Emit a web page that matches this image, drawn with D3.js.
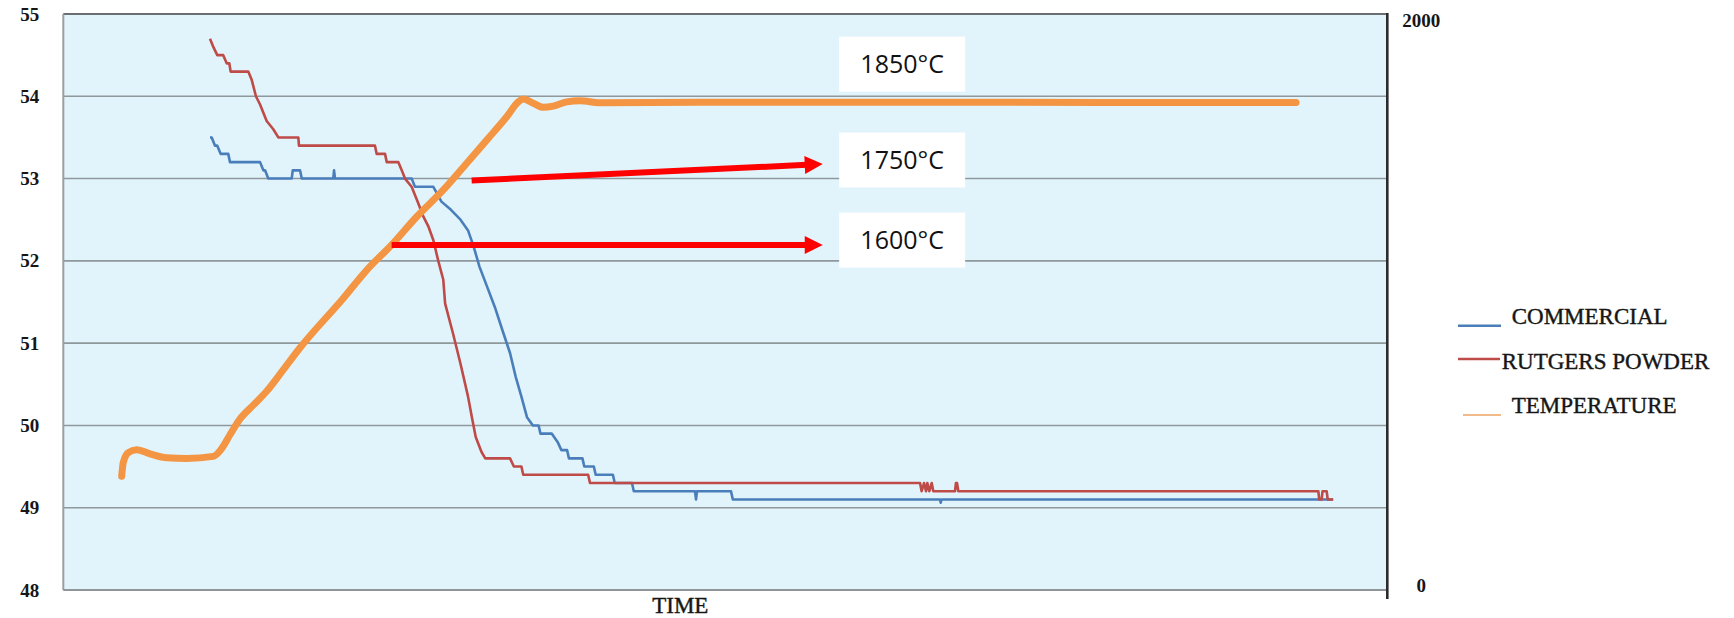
<!DOCTYPE html>
<html>
<head>
<meta charset="utf-8">
<script src="https://cdn.jsdelivr.net/npm/d3@7/dist/d3.min.js"></script>
<style>
  html, body { margin: 0; padding: 0; background: #ffffff; }
  svg { display: block; }
</style>
</head>
<body>
<svg id="chart" width="1734" height="618"></svg>
<script>
// ---- data -------------------------------------------------------------
// Sample mass (left axis) and furnace temperature (right axis) over elapsed time.
const massTicks = [48, 49, 50, 51, 52, 53, 54, 55];
const tempTicks = [0, 2000];
const seriesNames = ["COMMERCIAL", "RUTGERS POWDER", "TEMPERATURE"];
const calloutLabels = ["1850°C", "1750°C", "1600°C"];
const xTitle = "TIME";

const commercialTime = [11.08, 11.21, 11.46, 11.63, 11.89, 12.46, 12.59, 14.86, 15.11, 15.24,
  15.48, 17.25, 17.33, 17.88, 18.01, 20.39, 20.45, 20.52, 26.31, 26.56, 27.95, 28.56, 29.28,
  30.0, 30.57, 31.0, 31.43, 32.0, 32.59, 33.16, 33.74, 34.17, 34.6, 35.02, 35.47, 35.9, 36.04,
  36.9, 37.33, 37.62, 38.05, 38.19, 39.21, 39.35, 40.07, 40.21, 41.51, 41.65, 42.95, 43.09,
  47.71, 47.79, 47.86, 50.43, 50.57, 66.22, 66.27, 66.33, 95.9];
const commercialMass = [53.5, 53.5, 53.4, 53.4, 53.3, 53.3, 53.2, 53.2, 53.1, 53.1,
  53.0, 53.0, 53.1, 53.1, 53.0, 53.0, 53.1, 53.0, 53.0, 52.9, 52.9, 52.72, 52.62,
  52.5, 52.37, 52.17, 51.93, 51.69, 51.44, 51.16, 50.88, 50.59, 50.35, 50.1, 50.0, 50.0, 49.9,
  49.9, 49.8, 49.7, 49.7, 49.6, 49.6, 49.5, 49.5, 49.4, 49.4, 49.3, 49.3, 49.2,
  49.2, 49.1, 49.2, 49.2, 49.1, 49.1, 49.06, 49.1, 49.1];

const rutgersTime = [11.08, 11.33, 11.63, 12.08, 12.34, 12.54, 12.64, 13.97, 14.23, 14.55,
  14.86, 15.11, 15.36, 15.86, 16.24, 17.75, 17.8, 23.54, 23.67, 24.3, 24.43, 25.3, 25.56,
  25.81, 26.31, 26.56, 26.81, 27.19, 27.57, 27.95, 28.32, 28.7, 28.84, 29.43, 30.0, 30.57,
  30.86, 31.15, 31.58, 31.87, 33.74, 34.03, 34.6, 34.74, 39.64, 39.78, 64.71, 64.83, 65.01,
  65.16, 65.26, 65.41, 65.59, 65.71, 65.97, 67.35, 67.42, 67.5, 67.6, 94.79, 94.86, 95.04,
  95.11, 95.42, 95.5, 95.92];
const rutgersMass = [54.7, 54.6, 54.5, 54.5, 54.4, 54.4, 54.3, 54.3, 54.2, 54.0,
  53.9, 53.8, 53.7, 53.6, 53.5, 53.5, 53.4, 53.4, 53.3, 53.3, 53.2, 53.2, 53.1,
  53.0, 52.9, 52.8, 52.7, 52.54, 52.42, 52.25, 52.0, 51.77, 51.48, 51.12, 50.75, 50.35,
  50.1, 49.86, 49.68, 49.6, 49.6, 49.5, 49.5, 49.4, 49.4, 49.3, 49.3, 49.2, 49.3,
  49.2, 49.3, 49.2, 49.3, 49.2, 49.2, 49.2, 49.3, 49.3, 49.2, 49.2, 49.1, 49.1,
  49.2, 49.2, 49.1, 49.1];

const temperatureTime = [4.41, 4.53, 4.91, 5.54, 6.55, 7.81, 9.32, 11.33, 11.96, 12.59,
  13.35, 14.35, 15.36, 16.62, 17.88, 21.15, 22.92, 24.8, 26.69, 28.7, 30.47, 31.98, 33.49,
  34.37, 34.74, 35.5, 36.25, 37.01, 38.02, 39.03, 40.53, 48.09, 63.19, 78.3, 93.11];
const temperatureC = [395, 443, 477, 487, 473, 459, 457, 464, 491, 539,
  594, 642, 690, 765, 841, 1013, 1111, 1198, 1296, 1389, 1482, 1562, 1643,
  1695, 1705, 1690, 1676, 1680, 1695, 1699, 1692, 1694, 1694, 1693, 1693];

// ---- layout -----------------------------------------------------------
const plot = { left: 63.3, right: 1387.3, top: 14, bottom: 590 };
const colors = {
  commercial: "#4a7ebb",
  rutgers: "#be4b48",
  temperature: "#f39543",
  temperatureKey: "#f2b98a",
  plotBg: "#e1f4fb",
  grid: "#8f989c",
  arrow: "#ff0000",
  text: "#161616"
};
const serif = "'Liberation Serif', 'Times New Roman', serif";

const svg = d3.select("#chart");

const x = d3.scaleLinear().domain([0, 100]).range([plot.left, plot.right]);
const yMass = d3.scaleLinear().domain([48, 55]).range([plot.bottom, plot.top]);
const yTemp = d3.scaleLinear().domain([0, 2000]).range([plot.bottom, plot.top]);

// plot background
svg.append("rect")
  .attr("x", plot.left).attr("y", plot.top)
  .attr("width", plot.right - plot.left).attr("height", plot.bottom - plot.top)
  .attr("fill", colors.plotBg);

// horizontal gridlines on the inner mass ticks
svg.append("g").selectAll("line")
  .data(massTicks.filter(d => d > 48 && d < 55))
  .join("line")
  .attr("x1", plot.left).attr("x2", plot.right)
  .attr("y1", d => yMass(d)).attr("y2", d => yMass(d))
  .attr("stroke", colors.grid).attr("stroke-width", 1.6);

// frame: top, left, bottom
svg.append("line").attr("x1", plot.left).attr("x2", plot.right)
  .attr("y1", plot.top).attr("y2", plot.top)
  .attr("stroke", "#6b6f71").attr("stroke-width", 2);
svg.append("line").attr("x1", plot.left).attr("x2", plot.left)
  .attr("y1", plot.top).attr("y2", plot.bottom)
  .attr("stroke", "#9a9ea0").attr("stroke-width", 2);
svg.append("line").attr("x1", plot.left).attr("x2", plot.right)
  .attr("y1", plot.bottom).attr("y2", plot.bottom)
  .attr("stroke", "#8f9598").attr("stroke-width", 2);

// left axis (mass)
const leftAxis = svg.append("g")
  .attr("transform", `translate(${plot.left},0)`)
  .call(d3.axisLeft(yMass).tickValues(massTicks).tickSize(0).tickPadding(24).tickFormat(d3.format("d")));
leftAxis.select(".domain").remove();
leftAxis.selectAll("text")
  .attr("font-family", serif)
  .attr("font-weight", "bold")
  .attr("font-size", 19)
  .attr("fill", colors.text);

// right axis (temperature)
const rightAxis = svg.append("g")
  .attr("transform", `translate(${plot.right},0)`)
  .call(d3.axisRight(yTemp).tickValues(tempTicks).tickSize(0).tickPadding(34).tickFormat(d3.format("d")));
rightAxis.select(".domain").remove();
rightAxis.selectAll("text")
  .attr("text-anchor", "middle")
  .attr("dy", d => d === 2000 ? "0.68em" : "0.08em")
  .attr("font-family", serif)
  .attr("font-weight", "bold")
  .attr("font-size", 19)
  .attr("fill", colors.text);
svg.append("line")
  .attr("x1", plot.right).attr("x2", plot.right)
  .attr("y1", plot.top - 1).attr("y2", plot.bottom + 9)
  .attr("stroke", "#2b2b2b").attr("stroke-width", 2.6);

// x title
svg.append("text")
  .attr("x", x(46.6)).attr("y", 613)
  .attr("text-anchor", "middle")
  .attr("font-family", serif)
  .attr("font-size", 23)
  .attr("fill", colors.text)
  .attr("stroke", colors.text).attr("stroke-width", 0.4)
  .text(xTitle);

// ---- series -----------------------------------------------------------
const zip = (ts, vs) => ts.map((t, i) => [t, vs[i]]);

const massLine = d3.line().x(d => x(d[0])).y(d => yMass(d[1]));
const tempLine = d3.line().x(d => x(d[0])).y(d => yTemp(d[1])).curve(d3.curveMonotoneX);

svg.append("path")
  .datum(zip(commercialTime, commercialMass))
  .attr("d", massLine)
  .attr("fill", "none").attr("stroke", colors.commercial)
  .attr("stroke-width", 2.6).attr("stroke-linejoin", "round");

svg.append("path")
  .datum(zip(rutgersTime, rutgersMass))
  .attr("d", massLine)
  .attr("fill", "none").attr("stroke", colors.rutgers)
  .attr("stroke-width", 2.6).attr("stroke-linejoin", "round");

const tempData = zip(temperatureTime, temperatureC);
svg.append("path")
  .datum(tempData)
  .attr("d", tempLine)
  .attr("fill", "none").attr("stroke", colors.temperature)
  .attr("stroke-width", 7).attr("stroke-linecap", "round").attr("stroke-linejoin", "round");

// ---- callouts ---------------------------------------------------------
// temperature at time t, read linearly between neighbouring samples
const tempAt = t => {
  const i = d3.bisectRight(temperatureTime, t);
  const a = tempData[Math.max(0, i - 1)], b = tempData[Math.min(tempData.length - 1, i)];
  return a[1] + (b[1] - a[1]) * ((t - a[0]) / ((b[0] - a[0]) || 1));
};

const boxLeft = x(58.6), boxW = 126, boxH = 55;
const boxCenters = [yTemp(1826), yTemp(1493), yTemp(1215)];

const arrows = [
  { from: [x(30.84), yTemp(1422)], to: [x(57.36), yTemp(1479)] },
  { from: [x(24.8), yTemp(tempAt(24.8))], to: [x(57.36), yTemp(tempAt(24.8))] }
];

const headLen = 18, headHalf = 9;
arrows.forEach(a => {
  const [x1, y1] = a.from, [x2, y2] = a.to;
  const ang = Math.atan2(y2 - y1, x2 - x1);
  const cx = Math.cos(ang), sy = Math.sin(ang);
  const bx = x2 - headLen * cx, by = y2 - headLen * sy;
  svg.append("line")
    .attr("x1", x1).attr("y1", y1)
    .attr("x2", bx + 2 * cx).attr("y2", by + 2 * sy)
    .attr("stroke", colors.arrow).attr("stroke-width", 6);
  svg.append("path")
    .attr("d", `M${x2},${y2}L${bx - headHalf * sy},${by + headHalf * cx}L${bx + headHalf * sy},${by - headHalf * cx}Z`)
    .attr("fill", colors.arrow);
});

const callouts = svg.append("g").selectAll("g")
  .data(calloutLabels)
  .join("g")
  .attr("transform", (d, i) => `translate(${boxLeft},${boxCenters[i]})`);
callouts.append("rect")
  .attr("x", 0).attr("y", -boxH / 2)
  .attr("width", boxW).attr("height", boxH)
  .attr("fill", "#ffffff");
callouts.append("text")
  .attr("x", boxW / 2).attr("y", 0).attr("dy", "0.35em")
  .attr("text-anchor", "middle")
  .attr("font-family", "'Open Sans', 'Noto Sans', sans-serif")
  .attr("font-size", 25)
  .attr("fill", "#111111")
  .text(d => d);

// ---- legend -----------------------------------------------------------
const legendRows = [
  { name: seriesNames[0], color: colors.commercial, x1: 1458, x2: 1501, ly: 325.7, tx: 1511.7, ty: 324, w: 2.4 },
  { name: seriesNames[1], color: colors.rutgers, x1: 1458, x2: 1500, ly: 359, tx: 1501.7, ty: 369, w: 2.4 },
  { name: seriesNames[2], color: colors.temperatureKey, x1: 1463, x2: 1501, ly: 415, tx: 1511.7, ty: 413, w: 2 }
];
const legend = svg.append("g").selectAll("g").data(legendRows).join("g");
legend.append("line")
  .attr("x1", d => d.x1).attr("x2", d => d.x2)
  .attr("y1", d => d.ly).attr("y2", d => d.ly)
  .attr("stroke", d => d.color).attr("stroke-width", d => d.w);
legend.append("text")
  .attr("x", d => d.tx).attr("y", d => d.ty)
  .attr("font-family", serif)
  .attr("font-size", 23)
  .attr("fill", colors.text)
  .attr("stroke", colors.text).attr("stroke-width", 0.4)
  .text(d => d.name);
</script>
</body>
</html>
